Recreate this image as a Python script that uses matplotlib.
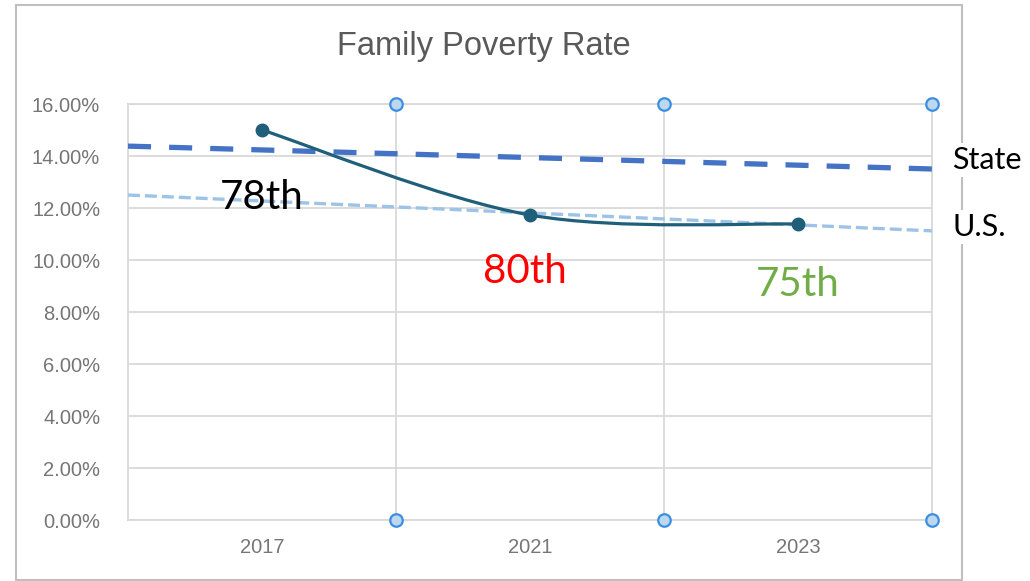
import numpy as np
import matplotlib
matplotlib.use("Agg")
import matplotlib.pyplot as plt
from matplotlib.path import Path
from matplotlib.patches import PathPatch, Rectangle
from matplotlib.ticker import FuncFormatter

# data (percent)
years = ["2017", "2021", "2023"]
family_rate = [15.0, 11.73, 11.38]
ranks = ["78th", "80th", "75th"]
rank_colors = ["#000000", "#FF0000", "#70AD47"]
# trend lines at the left and right edge of the plot area
trend_x = [-0.5, 2.5]
state_rate = [14.38, 13.50]
us_rate = [12.50, 11.12]

narrow = ["Liberation Sans Narrow", "Liberation Sans", "DejaVu Sans"]
label_font = ["Lato", "DejaVu Sans"]

W, H = 1030, 581
fig = plt.figure(figsize=(W / 100, H / 100), dpi=100)
fig.patch.set_facecolor("white")
ax = fig.add_axes([128 / W, (H - 520) / H, 804 / W, 416 / H])

# outer chart frame (drawn below the axes so side labels can cover it)
fig.add_artist(Rectangle((16 / W, 1 - 580 / H), (962 - 16) / W, (580 - 5) / H,
                         transform=fig.transFigure, fill=False,
                         edgecolor="#BFBFBF", linewidth=1.5, zorder=-1))
ax.patch.set_alpha(0)

grid_c = "#D9D9D9"
ax.set_xlim(-0.5, 2.5)
ax.set_ylim(0, 16)
ax.set_yticks(np.arange(0, 17, 2))
ax.yaxis.set_major_formatter(FuncFormatter(lambda v, p: "%.2f%%" % v))
ax.set_xticks(range(len(years)))
ax.set_xticklabels(years)
ax.set_xticks([0.5, 1.5], minor=True)
ax.grid(axis="y", which="major", color=grid_c, linewidth=1.3)
ax.grid(axis="x", which="minor", color=grid_c, linewidth=1.3)
ax.tick_params(axis="both", which="both", length=0)
ax.tick_params(axis="y", pad=20, labelsize=14.5, labelcolor="#767676")
ax.tick_params(axis="x", pad=13, labelsize=14.5, labelcolor="#767676")
for lab in ax.get_xticklabels() + ax.get_yticklabels():
    lab.set_family(narrow)
for s in ax.spines.values():
    s.set_color(grid_c)
    s.set_linewidth(1.3)
ax.set_axisbelow(True)

# trend lines
ax.plot(trend_x, state_rate, color="#4472C4", linewidth=3.8,
        dashes=(16.6 / 3.8, 13 / 3.8), zorder=3)
ax.plot(trend_x, us_rate, color="#9DC3E6", linewidth=2.4,
        dashes=(8.6 / 2.4, 3.6 / 2.4), zorder=3)

# smoothed line (Catmull-Rom style bezier through the points)
pts = np.column_stack([np.arange(len(family_rate)), family_rate])
verts = [pts[0]]
codes = [Path.MOVETO]
for i in range(len(pts) - 1):
    p_prev = pts[i - 1] if i > 0 else pts[i]
    p_next = pts[i + 2] if i + 2 < len(pts) else pts[i + 1]
    c1 = pts[i] + (pts[i + 1] - p_prev) / 6
    c2 = pts[i + 1] - (p_next - pts[i]) / 6
    verts += [c1, c2, pts[i + 1]]
    codes += [Path.CURVE4] * 3
ax.add_patch(PathPatch(Path(verts, codes), facecolor="none",
                       edgecolor="#1F5F7A", linewidth=2.3, zorder=4))
ax.plot(pts[:, 0], pts[:, 1], linestyle="none", marker="o", markersize=9,
        color="#1F5F7A", zorder=5)

# rank labels
rank_pos = [(0.0, 12.42), (0.98, 9.54), (2.0, 9.04)]
for (x, y), t, c in zip(rank_pos, ranks, rank_colors):
    ax.text(x, y, t, color=c, fontsize=29, family=label_font,
            ha="center", va="center", clip_on=False, zorder=6)

side_box = dict(facecolor="white", edgecolor="none", pad=2)
ax.text(2.575, 13.85, "State", fontsize=22, family=label_font,
        ha="left", va="center", clip_on=False, bbox=side_box, zorder=6)
ax.text(2.578, 11.27, "U.S.", fontsize=22, family=label_font,
        ha="left", va="center", clip_on=False, bbox=side_box, zorder=6)

# selection handles of the plot area
hx = [1 / 3, 2 / 3, 1, 1 / 3, 2 / 3, 1]
hy = [1, 1, 1, 0, 0, 0]
ax.plot(hx, hy, transform=ax.transAxes, linestyle="none", marker="o",
        markersize=9, markerfacecolor="#BDD7EE", markeredgecolor="#3C8FE0",
        markeredgewidth=1.6, clip_on=False, zorder=7)

fig.text(484 / W, 1 - 46 / H, "Family Poverty Rate", fontsize=23.5,
         family=narrow, color="#595959", ha="center", va="center")

fig.savefig("out.png", dpi=100)
